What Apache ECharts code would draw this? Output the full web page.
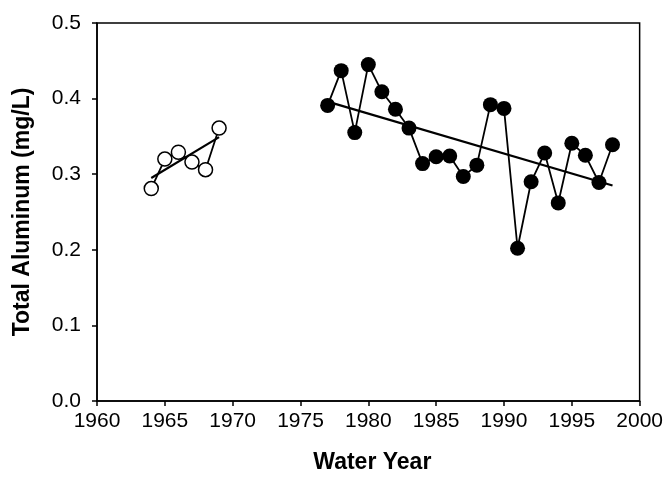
<!DOCTYPE html>
<html>
<head>
<meta charset="utf-8">
<script src="https://cdn.jsdelivr.net/npm/echarts@6/dist/echarts.min.js"></script>
<style>html,body{margin:0;padding:0;background:#fff;}#c{width:666px;height:479px;}</style>
</head>
<body>
<div id="c"></div>
<script>
// Early period (open circles)
const earlyYears = [1964, 1965, 1966, 1967, 1968, 1969];
const earlyValues = [0.281, 0.320, 0.329, 0.316, 0.306, 0.361];
const earlyTrendYears = [1964, 1969];
const earlyTrendValues = [0.295, 0.349];

// Late period (filled circles)
const lateYears = [1977, 1978, 1979, 1980, 1981, 1982, 1983, 1984, 1985, 1986, 1987,
                   1988, 1989, 1990, 1991, 1992, 1993, 1994, 1995, 1996, 1997, 1998];
const lateValues = [0.391, 0.437, 0.355, 0.445, 0.409, 0.386, 0.361, 0.314, 0.323, 0.324, 0.297,
                    0.312, 0.392, 0.387, 0.202, 0.290, 0.328, 0.262, 0.341, 0.325, 0.289, 0.339];
const lateTrendYears = [1977, 1998];
const lateTrendValues = [0.396, 0.285];

const zip = (xs, ys) => xs.map((x, i) => [x, ys[i]]);

const chart = echarts.init(document.getElementById('c'), null, {renderer: 'canvas'});
const font = 'Liberation Sans, Arial, sans-serif';
chart.setOption({
  animation: false,
  backgroundColor: '#fff',
  grid: {left: 97, right: 26, top: 23, bottom: 75, show: true, borderColor: '#000', borderWidth: 1.5, backgroundColor: 'transparent'},
  xAxis: {
    type: 'value', min: 1960, max: 2000, interval: 5,
    name: 'Water Year', nameLocation: 'middle', nameGap: 50,
    nameTextStyle: {fontFamily: font, fontSize: 23, fontWeight: 'bold', color: '#000', padding: [0, 0, 0, 8]},
    axisLine: {show: true, onZero: false, lineStyle: {color: '#000', width: 1.5}},
    axisTick: {show: true, inside: false, length: 5, lineStyle: {color: '#000', width: 1.5}},
    axisLabel: {fontFamily: font, fontSize: 21, color: '#000', margin: 10, formatter: v => String(v)},
    splitLine: {show: false}
  },
  yAxis: {
    type: 'value', min: 0, max: 0.5, interval: 0.1,
    name: 'Total Aluminum (mg/L)', nameLocation: 'middle', nameGap: 63, nameRotate: 90,
    nameTextStyle: {fontFamily: font, fontSize: 23, fontWeight: 'bold', color: '#000'},
    axisLine: {show: true, onZero: false, lineStyle: {color: '#000', width: 1.5}},
    axisTick: {show: true, inside: false, length: 5, lineStyle: {color: '#000', width: 1.5}},
    axisLabel: {fontFamily: font, fontSize: 21, color: '#000', margin: 16, formatter: v => v.toFixed(1)},
    splitLine: {show: false}
  },
  series: [
    {
      type: 'line', data: zip(earlyYears, earlyValues), symbol: 'circle', symbolSize: 14,
      lineStyle: {color: '#000', width: 1.8},
      itemStyle: {color: '#fff', borderColor: '#000', borderWidth: 1.5}, z: 3
    },
    {
      type: 'line', data: zip(earlyTrendYears, earlyTrendValues), symbol: 'none',
      lineStyle: {color: '#000', width: 2.2}, z: 2
    },
    {
      type: 'line', data: zip(lateYears, lateValues), symbol: 'circle', symbolSize: 15,
      lineStyle: {color: '#000', width: 1.8},
      itemStyle: {color: '#000', borderColor: '#000', borderWidth: 0}, z: 3
    },
    {
      type: 'line', data: zip(lateTrendYears, lateTrendValues), symbol: 'none',
      lineStyle: {color: '#000', width: 2.2}, z: 2
    }
  ]
});
</script>
</body>
</html>
